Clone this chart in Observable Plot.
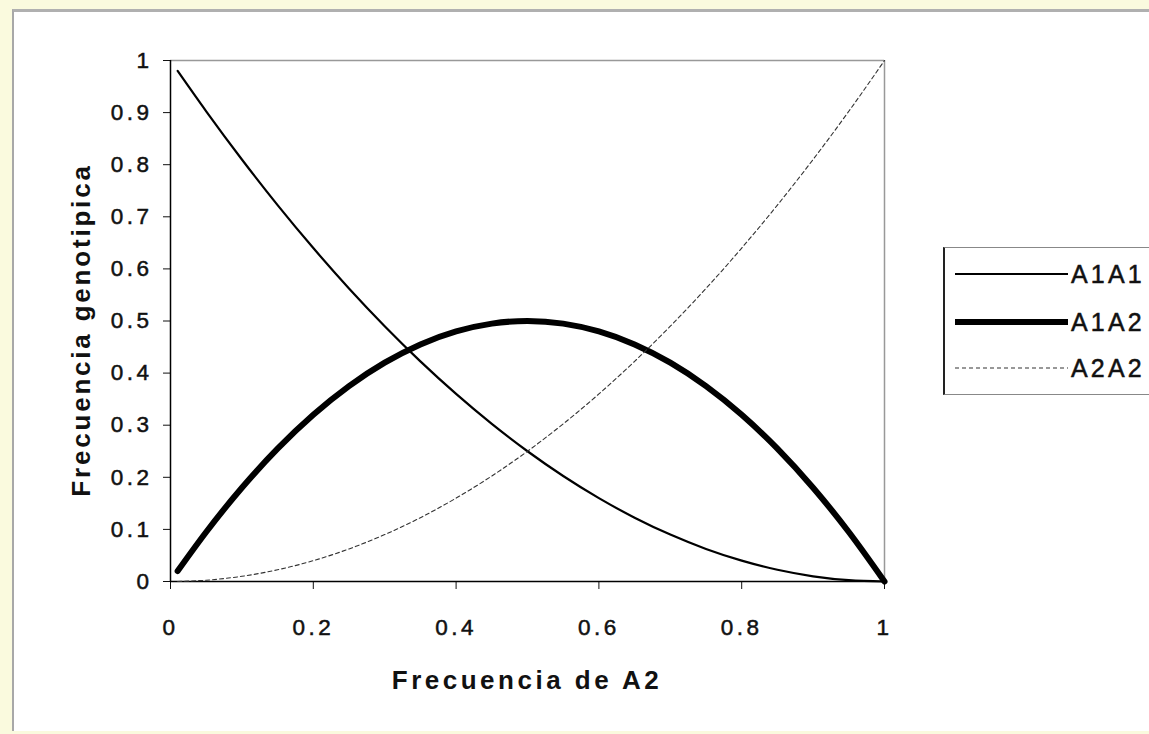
<!DOCTYPE html>
<html>
<head>
<meta charset="utf-8">
<script src="https://cdn.jsdelivr.net/npm/d3@7"></script>
<script src="https://cdn.jsdelivr.net/npm/@observablehq/plot@0.6"></script>
<style>
  html, body { margin: 0; padding: 0; }
  body { width: 1149px; height: 734px; background: #fafade; position: relative; overflow: hidden;
         font-family: "Liberation Sans", Arial, sans-serif; }
  #panel { position: absolute; left: 12px; top: 9px; width: 1200px; height: 719px; background: #ffffff;
           border-left: 2px solid #a8a8a8; border-top: 3px solid #b0b0b0; }
  #chart { position: absolute; left: 0; top: 0; }
  #chart svg text { letter-spacing: 3.5px; font-size: 22.5px; fill: #111; stroke: #111; stroke-width: 0.5px; }
  .ttl { position: absolute; font-weight: bold; font-size: 26px; line-height: 26px; white-space: nowrap; color: #111; }
  #xlabel { left: 527px; top: 667px; transform: translateX(-50%); letter-spacing: 3.5px; }
  #ylabel { left: 81px; top: 330px; transform: translate(-50%, -50%) rotate(-90deg); letter-spacing: 2.8px; }
  #legend { position: absolute; left: 943px; top: 247px; width: 240px; height: 146px; background: #fff;
            border-left: 2px solid #222; border-top: 1px solid #888; border-bottom: 1px solid #888; }
  .entry { position: absolute; left: 10px; height: 26px; display: flex; align-items: center; }
  .entry svg { display: block; }
  .entry span { font-size: 25px; letter-spacing: 3.2px; color: #111; margin-left: 3px; -webkit-text-stroke: 0.5px #111; }
</style>
</head>
<body>
<div id="panel"></div>
<div id="chart"></div>
<div id="xlabel" class="ttl">Frecuencia de A2</div>
<div id="ylabel" class="ttl">Frecuencia genotipica</div>
<div id="legend"></div>
<script>
// Allele frequency of A2 (x values)
const freqA2 = [0.01, 0.05, 0.10, 0.15, 0.20, 0.25, 0.30, 0.35, 0.40, 0.45, 0.50,
                0.55, 0.60, 0.65, 0.70, 0.75, 0.80, 0.85, 0.90, 0.95, 1.00];
// Genotype frequencies
const A1A1 = [0.98, 0.9025, 0.81, 0.7225, 0.64, 0.5625, 0.49, 0.4225, 0.36, 0.3025, 0.25,
              0.2025, 0.16, 0.1225, 0.09, 0.0625, 0.04, 0.0225, 0.01, 0.0025, 0.0];
const A1A2 = [0.02, 0.095, 0.18, 0.255, 0.32, 0.375, 0.42, 0.455, 0.48, 0.495, 0.50,
              0.495, 0.48, 0.455, 0.42, 0.375, 0.32, 0.255, 0.18, 0.095, 0.0];
const A2A2 = [0.0001, 0.0025, 0.01, 0.0225, 0.04, 0.0625, 0.09, 0.1225, 0.16, 0.2025, 0.25,
              0.3025, 0.36, 0.4225, 0.49, 0.5625, 0.64, 0.7225, 0.81, 0.9025, 1.0];
const seriesNames = ["A1A1", "A1A2", "A2A2"];
const xTicks = [0, 0.2, 0.4, 0.6, 0.8, 1];
const yTicks = [0, 0.1, 0.2, 0.3, 0.4, 0.5, 0.6, 0.7, 0.8, 0.9, 1];

const rows = freqA2.map((q, i) => ({q, A1A1: A1A1[i], A1A2: A1A2[i], A2A2: A2A2[i]}));
const fmt = d => String(+d.toFixed(1));

const styles = {
  A1A1: {stroke: "#000", strokeWidth: 2.2},
  A1A2: {stroke: "#000", strokeWidth: 6},
  A2A2: {stroke: "#333", strokeWidth: 1.1, strokeDasharray: "4,3"}
};

const chart = Plot.plot({
  width: 1149,
  height: 734,
  marginLeft: 170,
  marginTop: 60,
  marginRight: 265,
  marginBottom: 153,
  x: {domain: [0, 1]},
  y: {domain: [0, 1]},
  style: {background: "transparent", fontFamily: "'Liberation Sans', Arial, sans-serif", fontSize: "22px", color: "#111"},
  marks: [
    Plot.ruleY([1], {stroke: "#999", strokeWidth: 1.5}),
    Plot.ruleX([1], {stroke: "#999", strokeWidth: 1.5}),
    Plot.axisY({ticks: yTicks, tickSize: 7, tickPadding: 11, tickFormat: fmt, label: null}),
    Plot.axisX({ticks: xTicks, tickSize: 8, tickPadding: 30, tickFormat: fmt, label: null}),
    Plot.ruleX([0], {stroke: "#000", strokeWidth: 1.5}),
    Plot.ruleY([0], {stroke: "#000", strokeWidth: 1.5}),
    ...seriesNames.map(s => Plot.line(rows, {x: "q", y: s, curve: "monotone-x", ...styles[s]}))
  ]
});
document.getElementById("chart").appendChild(chart);

// Legend
const legend = document.getElementById("legend");
const entryTops = [13, 61, 107];
seriesNames.forEach((s, i) => {
  const e = document.createElement("div");
  e.className = "entry";
  e.style.top = entryTops[i] + "px";
  const st = styles[s];
  e.innerHTML = `<svg width="113" height="26"><line x1="0" x2="113" y1="13" y2="13" stroke="${st.stroke}" stroke-width="${st.strokeWidth}" ${st.strokeDasharray ? `stroke-dasharray="${st.strokeDasharray}"` : ""}/></svg><span>${s}</span>`;
  legend.appendChild(e);
});
</script>
</body>
</html>
